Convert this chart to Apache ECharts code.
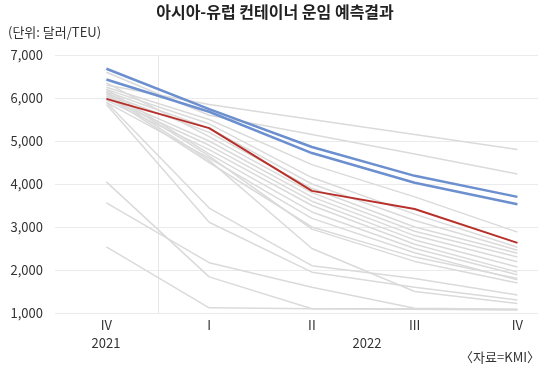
<!DOCTYPE html>
<html>
<head>
<meta charset="utf-8">
<script src="https://cdn.jsdelivr.net/npm/echarts@6/dist/echarts.min.js"></script>
<style>
html,body{margin:0;padding:0;background:#fff;}
#chart{width:550px;height:392px;}
</style>
</head>
<body>
<div id="chart"></div>
<script>
var categories = ['IV', 'I', 'II', 'III', 'IV'];
var yearLabels = ['2021', '2022'];
var yTicks = [1000, 2000, 3000, 4000, 5000, 6000, 7000];

var blueA = [6680, 5740, 4860, 4190, 3700];
var blueB = [6430, 5680, 4720, 4030, 3530];
var redLine = [5980, 5300, 3840, 3420, 2630];

var greyLines = [
  [6300, 5850, 5500, 5150, 4800],
  [6600, 5600, 5150, 4700, 4230],
  [6250, 5500, 4450, 3700, 2880],
  [6200, 5400, 4150, 3300, 2530],
  [6150, 5300, 4000, 3150, 2460],
  [6100, 5200, 3900, 3000, 2390],
  [6350, 5100, 3800, 2900, 2300],
  [6050, 5000, 3700, 2800, 2190],
  [6000, 4900, 3600, 2700, 2070],
  [5950, 4800, 3500, 2600, 1950],
  [6200, 4700, 3350, 2500, 1890],
  [5900, 4600, 3200, 2400, 1770],
  [6050, 4500, 3000, 2300, 1800],
  [6150, 4650, 2950, 2200, 1700],
  [5900, 3440, 2100, 1800, 1420],
  [5850, 3110, 1950, 1600, 1300],
  [6100, 4550, 2500, 1500, 1220],
  [4050, 1840, 1100, 1090, 1070],
  [3560, 2170, 1600, 1110, 1090],
  [2540, 1120, 1100, 1100, 1080]
];

function toPts(arr) { return arr.map(function (v, i) { return [i, v]; }); }

var FONT = '"Noto Sans CJK KR", "Noto Sans", sans-serif';

var series = [];
series.push({
  type: 'line', data: [], symbol: 'none', silent: true, z: 1,
  markLine: {
    silent: true, symbol: 'none', label: { show: false }, z: 1,
    lineStyle: { color: '#e6e6e6', width: 1, type: 'solid' },
    data: [{ xAxis: 0.5 }]
  }
});
greyLines.forEach(function (g) {
  series.push({
    type: 'line', data: toPts(g), symbol: 'none', silent: true,
    lineStyle: { color: '#dadada', width: 1.5 }, z: 2
  });
});
series.push({
  type: 'line', data: toPts(redLine), symbol: 'none',
  lineStyle: { color: '#b8302a', width: 2 }, z: 4
});
series.push({
  type: 'line', data: toPts(blueB), symbol: 'none',
  lineStyle: { color: '#6b8fcf', width: 2.5 }, z: 5
});
series.push({
  type: 'line', data: toPts(blueA), symbol: 'none',
  lineStyle: { color: '#6b8fcf', width: 2.5 }, z: 5
});

var chart = echarts.init(document.getElementById('chart'));
chart.setOption({
  animation: false,
  backgroundColor: '#fff',
  textStyle: { fontFamily: FONT },
  grid: { left: 55, right: 12, top: 55, bottom: 79, containLabel: false },
  xAxis: {
    type: 'value', min: -0.5, max: 4.2,
    axisLine: { show: false }, axisTick: { show: false },
    splitLine: { show: false },
    axisLabel: {
      customValues: [0, 1, 2, 3, 4],
      formatter: function (v) { return categories[Math.round(v)] || ''; },
      color: '#333', fontSize: 13, margin: 6, fontFamily: FONT
    }
  },
  yAxis: {
    type: 'value', min: yTicks[0], max: yTicks[yTicks.length - 1], interval: 1000,
    axisLine: { show: false }, axisTick: { show: false },
    splitLine: { lineStyle: { color: '#ebebeb', width: 1 } },
    axisLabel: {
      color: '#333', fontSize: 13, margin: 12, fontFamily: FONT,
      formatter: function (v) { return v.toLocaleString('en-US'); }
    }
  },
  graphic: [
    { type: 'text', left: 'center', top: 4,
      style: { text: '아시아-유럽 컨테이너 운임 예측결과', font: 'bold 16px ' + FONT, fill: '#222' } },
    { type: 'text', left: 8, top: 26,
      style: { text: '(단위: 달러/TEU)', font: '13px ' + FONT, fill: '#333' } },
    { type: 'text', x: 106, y: 343,
      style: { text: yearLabels[0], font: '13px ' + FONT, fill: '#333', align: 'center', verticalAlign: 'middle' } },
    { type: 'text', x: 367, y: 343,
      style: { text: yearLabels[1], font: '13px ' + FONT, fill: '#333', align: 'center', verticalAlign: 'middle' } },
    { type: 'text', x: 540, y: 357,
      style: { text: '〈자료=KMI〉', font: '13px ' + FONT, fill: '#333', align: 'right', verticalAlign: 'middle' } }
  ],
  series: series
});
</script>
</body>
</html>
